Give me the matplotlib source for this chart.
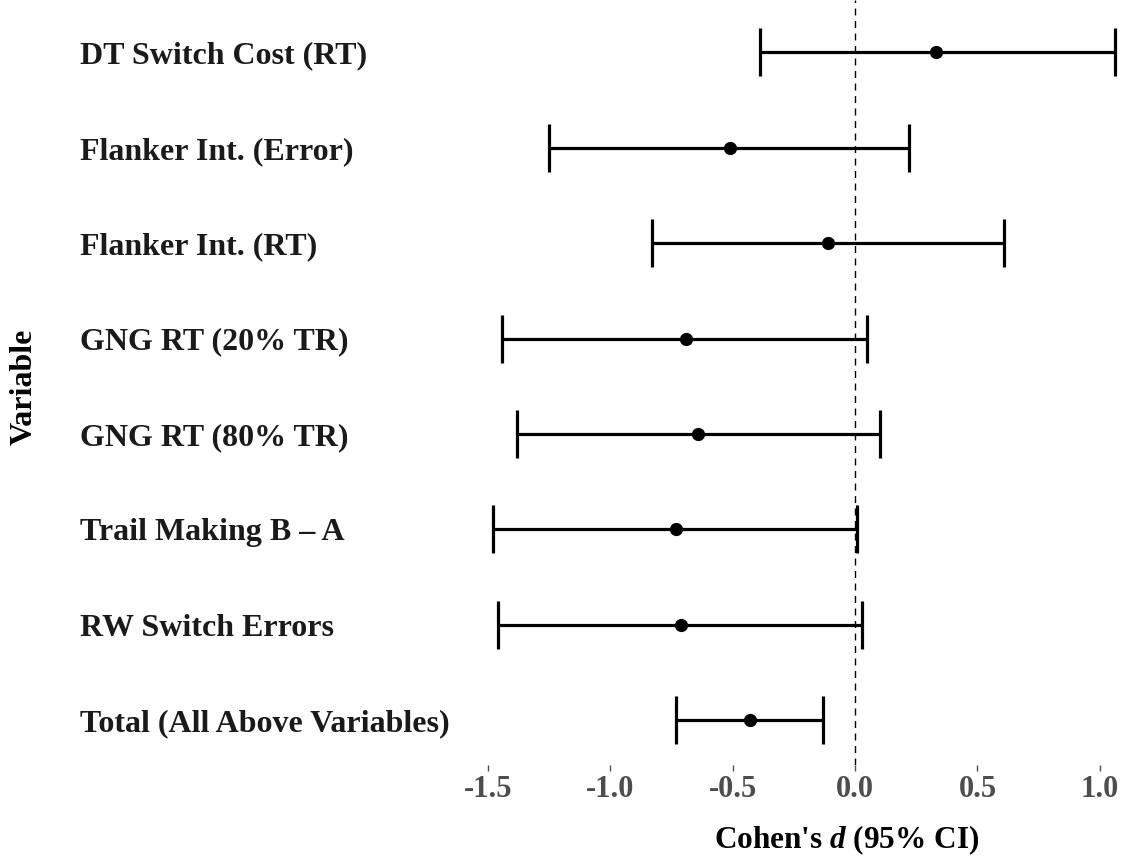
import numpy as np
import matplotlib
matplotlib.use("Agg")
import matplotlib.pyplot as plt

# Effect sizes (Cohen's d) with 95% confidence limits, bottom row first
variables = [
    "Total (All Above Variables)",
    "RW Switch Errors",
    "Trail Making B \u2013 A",
    "GNG RT (80% TR)",
    "GNG RT (20% TR)",
    "Flanker Int. (RT)",
    "Flanker Int. (Error)",
    "DT Switch Cost (RT)",
]
d_mean = [-0.43, -0.71, -0.73, -0.64, -0.69, -0.11, -0.51, 0.33]
ci_low = [-0.73, -1.46, -1.48, -1.38, -1.44, -0.83, -1.25, -0.39]
ci_high = [-0.13, 0.03, 0.01, 0.10, 0.05, 0.61, 0.22, 1.06]
x_ticks = [-1.5, -1.0, -0.5, 0.0, 0.5, 1.0]

plt.rcParams["font.family"] = "Liberation Serif"
plt.rcParams["font.weight"] = "bold"
plt.rcParams["axes.unicode_minus"] = False
plt.rcParams["mathtext.fontset"] = "custom"
plt.rcParams["mathtext.it"] = "Liberation Serif:italic:bold"
plt.rcParams["mathtext.rm"] = "Liberation Serif:bold"

W, H = 1131, 857
fig = plt.figure(figsize=(W / 100, H / 100), dpi=100)
ax = fig.add_axes([462 / W, (H - 765) / H, (W - 462) / W, 765 / H])

ypos = np.arange(1, len(variables) + 1)
d = np.array(d_mean)
err = [d - np.array(ci_low), np.array(ci_high) - d]

ax.axvline(0, color="black", lw=1.0, linestyle=(0, (5, 4)), zorder=1)
ax.errorbar(d, ypos, xerr=err, fmt="o", color="black", ms=8.5,
            elinewidth=2.3, capsize=17, capthick=2.3, zorder=2)

ax.set_xlim(-1.605, 1.127)
ax.set_ylim(0.53, 8.55)

ax.set_xticks(x_ticks)
ax.set_xticklabels([f"{t:.1f}" for t in x_ticks], fontsize=22,
                   color="#4D4D4D", fontweight="bold")
ax.tick_params(axis="x", length=4, width=1, color="#4D4D4D", pad=3)

# category names are left-aligned, starting 382 px left of the panel
ax.set_yticks(ypos)
ax.set_yticklabels(variables, fontsize=23, fontweight="bold", color="#1A1A1A")
for lab in ax.get_yticklabels():
    lab.set_horizontalalignment("left")
ax.tick_params(axis="y", length=0, pad=382 * 0.72)

for s in ax.spines.values():
    s.set_visible(False)

fig.text(847 / W, (H - 840) / H, "Cohen's $d$ (95% CI)", fontsize=22.5,
         fontweight="bold", ha="center", va="center")
fig.text(24 / W, (H - 387) / H, "Variable", fontsize=23, fontweight="bold",
         rotation=90, ha="center", va="center")

fig.savefig("out.png", dpi=100)
